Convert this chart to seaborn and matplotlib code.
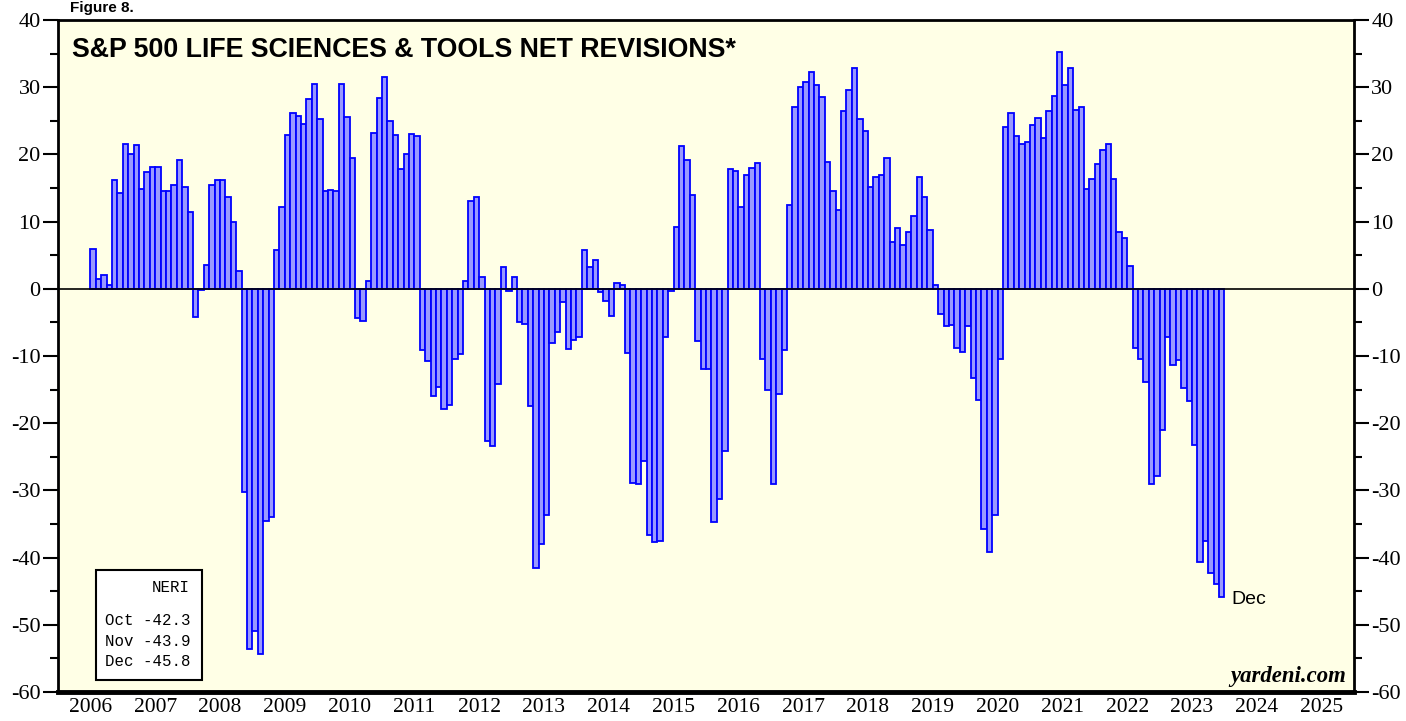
import numpy as np
import pandas as pd
import seaborn as sns
import matplotlib.pyplot as plt
from matplotlib.patches import Rectangle

# S&P 500 Life Sciences & Tools NERI, monthly (Jul 2006 - Dec 2023)
neri_2006 = [5.9, 1.4, 2.1, 0.6, 16.2, 14.3]
neri_2007 = [21.6, 20.1, 21.4, 14.8, 17.4, 18.1, 18.1, 14.6, 14.6, 15.4, 19.2, 15.2]
neri_2008 = [11.4, -4.2, -0.2, 3.6, 15.5, 16.2, 16.2, 13.7, 10.0, 2.6, -30.3, -53.6]
neri_2009 = [-50.9, -54.3, -34.5, -34.0, 5.7, 12.2, 22.9, 26.2, 25.7, 24.5, 28.3, 30.5]
neri_2010 = [25.3, 14.6, 14.7, 14.6, 30.5, 25.5, 19.4, -4.4, -4.8, 1.2, 23.2, 28.4]
neri_2011 = [31.5, 25.0, 22.9, 17.9, 20.1, 23.1, 22.7, -9.1, -10.8, -15.9, -14.6, -17.9]
neri_2012 = [-17.3, -10.5, -9.7, 1.1, 13.0, 13.7, 1.7, -22.7, -23.4, -14.1, 3.3, -0.3]
neri_2013 = [1.8, -5.0, -5.2, -17.4, -41.6, -38.0, -33.6, -8.1, -6.5, -1.9, -9.0, -7.6]
neri_2014 = [-7.2, 5.8, 3.2, 4.3, -0.5, -1.8, -4.0, 0.8, 0.5, -9.6, -28.9, -29.0]
neri_2015 = [-25.6, -36.7, -37.7, -37.5, -7.1, -0.3, 9.2, 21.2, 19.1, 13.9, -7.7, -11.9]
neri_2016 = [-11.9, -34.7, -31.3, -24.2, 17.9, 17.6, 12.1, 17.0, 18.0, 18.7, -10.5, -15.0]
neri_2017 = [-29.1, -15.6, -9.1, 12.4, 27.1, 30.1, 30.8, 32.3, 30.4, 28.5, 18.8, 14.5]
neri_2018 = [11.7, 26.4, 29.6, 32.8, 25.2, 23.5, 15.2, 16.7, 17.0, 19.5, 6.9, 9.0]
neri_2019 = [6.5, 8.5, 10.8, 16.7, 13.6, 8.7, 0.5, -3.7, -5.5, -5.4, -8.8, -9.4]
neri_2020 = [-5.6, -13.3, -16.5, -35.7, -39.2, -33.6, -10.4, 24.1, 26.1, 22.7, 21.6, 21.9]
neri_2021 = [24.4, 25.4, 22.5, 26.5, 28.7, 35.2, 30.3, 32.9, 26.6, 27.1, 14.8, 16.3]
neri_2022 = [18.5, 20.7, 21.6, 16.3, 8.4, 7.5, 3.4, -8.8, -10.4, -13.8, -29.0, -27.8]
neri_2023 = [-21.0, -7.2, -11.4, -10.6, -14.7, -16.7, -23.3, -40.6, -37.5, -42.3, -43.9, -45.8]

years = list(range(2006, 2026))
box_months = ['Oct', 'Nov', 'Dec']
box_values = [-42.3, -43.9, -45.8]

values = (neri_2006 + neri_2007 + neri_2008 + neri_2009 + neri_2010 + neri_2011
          + neri_2012 + neri_2013 + neri_2014 + neri_2015 + neri_2016 + neri_2017
          + neri_2018 + neri_2019 + neri_2020 + neri_2021 + neri_2022 + neri_2023)
dates = pd.date_range('2006-07-01', periods=len(values), freq='MS')
df = pd.DataFrame({'date': dates, 'neri': values})
# decimal year at the middle of each month
df['t'] = df['date'].dt.year + (df['date'].dt.month - 0.5) / 12

sns.set_style('white')
plt.rcParams['font.family'] = ['Liberation Serif', 'DejaVu Serif']
plt.rcParams['text.color'] = 'black'
plt.rcParams['xtick.color'] = 'black'
plt.rcParams['ytick.color'] = 'black'
plt.rcParams['axes.labelcolor'] = 'black'
plt.rcParams['axes.unicode_minus'] = False

fig = plt.figure(figsize=(14.06, 7.21), dpi=100)
ax = fig.add_axes([58 / 1406, 29 / 721, 1296 / 1406, 672 / 721])
ax.set_facecolor('#FFFFE6')

sns.barplot(data=df, x='t', y='neri', native_scale=True, width=1,
            color='#9999FF', saturation=1, edgecolor='#0000FF',
            linewidth=1.3, errorbar=None, ax=ax, zorder=2)

ax.axhline(0, color='black', lw=1.2, zorder=3)
ax.set_xlim(years[0], years[-1] + 1)
ax.set_ylim(-60, 40)
ax.set_xlabel('')
ax.set_ylabel('')

# x axis: year boundaries as ticks, year labels in between
ax.set_xticks(years + [years[-1] + 1])
ax.set_xticklabels([])
ax.set_xticks([y + 0.5 for y in years], minor=True)
ax.set_xticklabels([str(y) for y in years], minor=True)
ax.tick_params(axis='x', which='major', length=12, width=2, direction='out')
ax.tick_params(axis='x', which='minor', length=0, labelsize=15.5, pad=4)

ax.set_yticks(range(-60, 41, 10))
ax.set_yticks(range(-55, 40, 10), minor=True)
ax.tick_params(axis='y', which='both', left=True, right=True,
               labelleft=True, labelright=True, direction='out', width=1.5,
               labelsize=16)
ax.tick_params(axis='y', which='major', length=11, pad=1.5)
ax.tick_params(axis='y', which='minor', length=6)

for side in ['left', 'right', 'top']:
    ax.spines[side].set_linewidth(2)
    ax.spines[side].set_color('black')
ax.spines['bottom'].set_linewidth(3.5)
ax.spines['bottom'].set_color('black')

ax.text(0.011, 0.975, 'S&P 500 LIFE SCIENCES & TOOLS NET REVISIONS*',
        transform=ax.transAxes, ha='left', va='top', fontsize=19.3,
        fontweight='bold', family=['Liberation Sans'])
fig.text(70 / 1406, 0.999, 'Figure 8.', ha='left', va='top', fontsize=11,
         fontweight='bold', family=['Liberation Sans'])

# NERI box with the last three months
ax.add_patch(Rectangle((0.0293, 0.0179), 0.0818, 0.1636, transform=ax.transAxes,
                       fc='white', ec='black', lw=1.5, zorder=5))
ax.text(0.1019, 0.1548, 'NERI', transform=ax.transAxes, ha='right', va='center',
        fontsize=11.3, family=['Liberation Mono'], zorder=6)
for i, (m, v) in enumerate(zip(box_months, box_values)):
    ax.text(0.0363, 0.1057 - i * 0.0305, f'{m} {v:.1f}', transform=ax.transAxes,
            ha='left', va='center', fontsize=11.3, family=['Liberation Mono'],
            zorder=6)

last = df.iloc[-1]
ax.annotate(box_months[-1], xy=(last['t'], last['neri']), xytext=(7, -2),
            textcoords='offset points', ha='left', va='center', fontsize=14,
            family=['Liberation Sans'])

ax.text(0.994, 0.008, 'yardeni.com', transform=ax.transAxes, ha='right',
        va='bottom', fontsize=16.4, fontweight='bold', style='italic')

fig.savefig('out.png', dpi=100)
